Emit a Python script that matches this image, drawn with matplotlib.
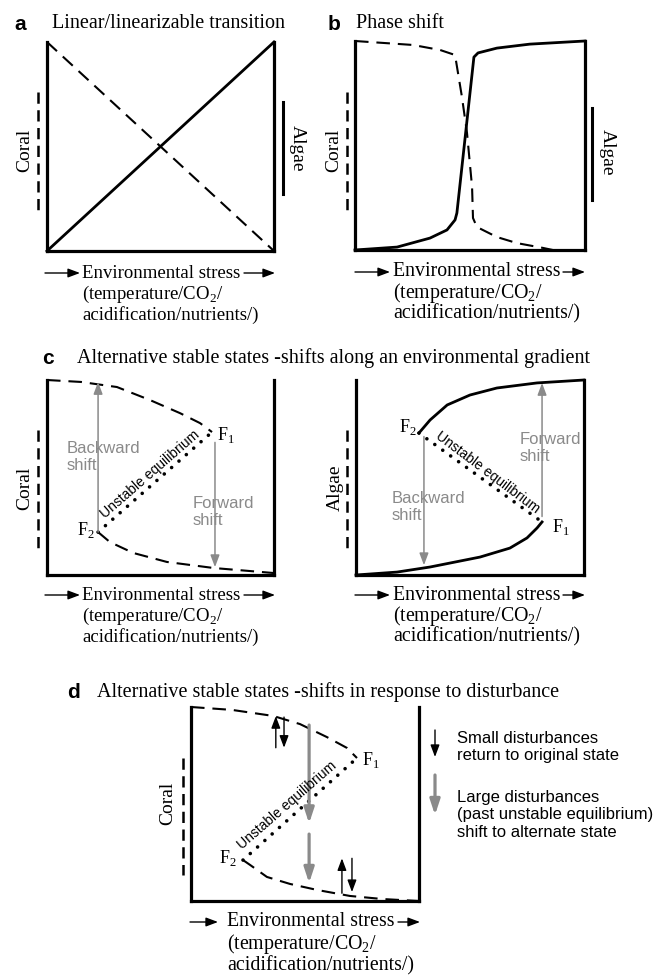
import matplotlib
matplotlib.use('Agg')
import matplotlib.pyplot as plt
from matplotlib.patches import FancyArrowPatch

# ---------------- data (schematic curves) ----------------
a_coral_x = [0, 1]
a_coral_y = [1, 0]
a_algae_x = [0, 1]
a_algae_y = [0, 1]

b_coral_x = [0, 0.252, 0.37, 0.435, 0.465, 0.487, 0.509, 0.513, 0.53, 0.617, 0.704, 0.817, 0.86]
b_coral_y = [1, 0.981, 0.957, 0.933, 0.732, 0.560, 0.301, 0.153, 0.11, 0.062, 0.033, 0.01, 0.0]
b_algae_x = [0, 0.183, 0.326, 0.40, 0.435, 0.443, 0.481, 0.517, 0.535, 0.617, 0.76, 1.0]
b_algae_y = [0, 0.014, 0.057, 0.096, 0.144, 0.177, 0.56, 0.923, 0.943, 0.966, 0.985, 1.0]

c_coral_upper_x = [0, 0.15, 0.308, 0.454, 0.586, 0.674, 0.727]
c_coral_upper_y = [1, 0.99, 0.964, 0.897, 0.83, 0.779, 0.733]
c_coral_unstable_x = [0.225, 0.727]
c_coral_unstable_y = [0.22, 0.733]
c_coral_lower_x = [0.225, 0.277, 0.38, 0.528, 0.733, 1.0]
c_coral_lower_y = [0.22, 0.169, 0.113, 0.067, 0.036, 0.01]

c_algae_upper_x = [0.276, 0.325, 0.40, 0.50, 0.618, 0.794, 1.0]
c_algae_upper_y = [0.728, 0.795, 0.872, 0.923, 0.959, 0.985, 1.0]
c_algae_unstable_x = [0.276, 0.816]
c_algae_unstable_y = [0.728, 0.272]
c_algae_lower_x = [0, 0.18, 0.325, 0.544, 0.675, 0.75, 0.794, 0.816]
c_algae_lower_y = [0, 0.015, 0.041, 0.092, 0.138, 0.19, 0.241, 0.272]

d_coral_upper_x = [0, 0.18, 0.36, 0.478, 0.596, 0.684, 0.728]
d_coral_upper_y = [1, 0.985, 0.954, 0.912, 0.845, 0.789, 0.737]
d_coral_unstable_x = [0.228, 0.728]
d_coral_unstable_y = [0.211, 0.737]
d_coral_lower_x = [0.228, 0.259, 0.333, 0.434, 0.553, 0.697, 0.842, 1.0]
d_coral_lower_y = [0.211, 0.186, 0.124, 0.088, 0.057, 0.026, 0.01, 0.0]

# shift arrows (x, y_start, y_end) in panel units
c_coral_backward = (0.225, 0.22, 0.99)
c_coral_forward = (0.74, 0.68, 0.04)
c_algae_forward = (0.816, 0.30, 0.985)
c_algae_backward = (0.298, 0.71, 0.05)
d_small_up = [(0.372, 0.79, 0.953), (0.662, 0.04, 0.22)]
d_small_down = [(0.408, 0.948, 0.79), (0.706, 0.22, 0.046)]
d_large = [(0.518, 0.907, 0.40), (0.518, 0.345, 0.093)]

titles = ["Linear/linearizable transition", "Phase shift",
          "Alternative stable states -shifts along an environmental gradient",
          "Alternative stable states -shifts in response to disturbance"]
xlab1 = "Environmental stress"
xlab2 = r"(temperature/CO$_\mathregular{2}$/"
xlab3 = "acidification/nutrients/)"

# ---------------- styling ----------------
W, H = 665, 977
SERIF = ['Liberation Serif', 'DejaVu Serif']
SANS = ['Liberation Sans', 'DejaVu Sans']
GRAY = '#8a8a8a'
SPINE_LW = 2.3
SOLID_LW = 2.0
DASH_LW = 1.5
DASH = (0, (6.5, 3.8))
DOT = (0, (0.01, 2.7))

fig = plt.figure(figsize=(W / 100, H / 100), dpi=100)
fig.patch.set_facecolor('white')


def fx(px):
    return px / W


def fy(py):
    return 1 - py / H


def make_ax(x0, y0, x1, y1):
    ax = fig.add_axes([x0 / W, 1 - y1 / H, (x1 - x0) / W, (y1 - y0) / H])
    ax.set_xlim(0, 1)
    ax.set_ylim(0, 1)
    ax.set_xticks([])
    ax.set_yticks([])
    ax.spines['top'].set_visible(False)
    for s in ['left', 'right', 'bottom']:
        ax.spines[s].set_linewidth(SPINE_LW)
        ax.spines[s].set_capstyle('projecting')
    ax.patch.set_alpha(0)
    return ax


def fig_arrow(x0, y0, x1, y1, color='black', lw=1.0, ms=9, hl=0.8, hw=0.3):
    fig.add_artist(FancyArrowPatch((fx(x0), fy(y0)), (fx(x1), fy(y1)),
                                   transform=fig.transFigure,
                                   arrowstyle=f'-|>,head_length={hl},head_width={hw}',
                                   mutation_scale=ms, lw=lw, color=color,
                                   shrinkA=0, shrinkB=0))


def ax_arrow(ax, x, y0, y1, color, lw, ms, hl=0.8, hw=0.3):
    ax.add_patch(FancyArrowPatch((x, y0), (x, y1), arrowstyle=f'-|>,head_length={hl},head_width={hw}',
                                 mutation_scale=ms, lw=lw, color=color,
                                 shrinkA=0, shrinkB=0, clip_on=False, zorder=4))


def xlabel_block(a0, a1, tx, b0, b1, y, dy, fs=14):
    fig_arrow(a0, y, a1, y)
    fig.text(fx(tx), fy(y), xlab1, family=SERIF, fontsize=fs, ha='left', va='center')
    fig_arrow(b0, y, b1, y)
    fig.text(fx(tx), fy(y + dy), xlab2, family=SERIF, fontsize=fs, ha='left', va='center')
    fig.text(fx(tx), fy(y + 2 * dy), xlab3, family=SERIF, fontsize=fs, ha='left', va='center')


def side_label(text, tx, ty, lx, ly0, ly1, dashed, rot):
    fig.text(fx(tx), fy(ty), text, family=SERIF, fontsize=14, rotation=rot,
             ha='center', va='center')
    fig.add_artist(plt.Line2D([fx(lx), fx(lx)], [fy(ly0), fy(ly1)], transform=fig.transFigure,
                              color='black', lw=1.8 if dashed else 2.2,
                              linestyle=(0, (4.5, 2.6)) if dashed else '-'))


def panel_title(letter, lx, tx, y, title):
    fig.text(fx(lx), fy(y), letter, family=SANS, fontweight='bold', fontsize=15,
             ha='center', va='center')
    fig.text(fx(tx), fy(y), title, family=SERIF, fontsize=14.5, ha='left', va='center')


def flabel(ax, x, y, num, ha):
    ax.text(x, y, r'F$_\mathregular{' + num + '}$', family=SERIF, fontsize=13,
            ha=ha, va='center', zorder=5)


def unstable(ax, xs, ys, tx, ty, rot):
    ax.plot(xs, ys, color='black', lw=2.6, linestyle=DOT, dash_capstyle='round',
            solid_capstyle='round', clip_on=False)
    ax.text(tx, ty, 'Unstable equilibrium', family=SANS, fontsize=10, rotation=rot,
            rotation_mode='anchor', ha='center', va='center', zorder=5)


# ---------------- panel a ----------------
panel_title('a', 20, 52, 24, titles[0])
ax = make_ax(47, 42, 274, 251)
ax.plot(a_algae_x, a_algae_y, color='black', lw=SOLID_LW, clip_on=False)
ax.plot(a_coral_x, a_coral_y, color='black', lw=DASH_LW, linestyle=DASH, clip_on=False)
side_label('Coral', 25, 150, 38, 92, 210, True, 90)
side_label('Algae', 297, 148, 283, 102, 194, False, -90)
xlabel_block(45, 80, 82, 244, 275, 273, 21, 13.5)

# ---------------- panel b ----------------
panel_title('b', 334, 356, 24, titles[1])
ax = make_ax(355, 41, 585, 250)
ax.plot(b_algae_x, b_algae_y, color='black', lw=SOLID_LW, clip_on=False)
ax.plot(b_coral_x, b_coral_y, color='black', lw=DASH_LW, linestyle=DASH, clip_on=False)
side_label('Coral', 334, 150, 347, 92, 210, True, 90)
side_label('Algae', 607, 152, 592, 108, 200, False, -90)
xlabel_block(355, 390, 393, 563, 585, 272, 21, 14.3)

# ---------------- panel c ----------------
panel_title('c', 48, 77, 358, titles[2])
ax = make_ax(47, 380, 274, 575)
ax.plot(c_coral_upper_x, c_coral_upper_y, color='black', lw=DASH_LW, linestyle=DASH, clip_on=False)
ax.plot(c_coral_lower_x, c_coral_lower_y, color='black', lw=DASH_LW, linestyle=DASH, clip_on=False)
unstable(ax, c_coral_unstable_x, c_coral_unstable_y, 0.454, 0.518, 41)
ax_arrow(ax, c_coral_backward[0], c_coral_backward[1], c_coral_backward[2], GRAY, 1.1, 9)
ax_arrow(ax, c_coral_forward[0], c_coral_forward[1], c_coral_forward[2], GRAY, 1.1, 9)
ax.text(0.088, 0.605, 'Backward\nshift', family=SANS, fontsize=12, color=GRAY,
        ha='left', va='center', linespacing=1.1)
ax.text(0.643, 0.323, 'Forward\nshift', family=SANS, fontsize=12, color=GRAY,
        ha='left', va='center', linespacing=1.1)
flabel(ax, 0.749, 0.718, '1', 'left')
flabel(ax, 0.211, 0.231, '2', 'right')
side_label('Coral', 25, 488, 38, 430, 548, True, 90)
xlabel_block(45, 80, 82, 244, 275, 595, 21, 13.5)

ax = make_ax(356, 380, 584, 575)
ax.plot(c_algae_upper_x, c_algae_upper_y, color='black', lw=SOLID_LW, clip_on=False)
ax.plot(c_algae_lower_x, c_algae_lower_y, color='black', lw=SOLID_LW, clip_on=False)
unstable(ax, c_algae_unstable_x, c_algae_unstable_y, 0.579, 0.528, -37)
ax_arrow(ax, c_algae_forward[0], c_algae_forward[1], c_algae_forward[2], GRAY, 1.1, 9)
ax_arrow(ax, c_algae_backward[0], c_algae_backward[1], c_algae_backward[2], GRAY, 1.1, 9)
ax.text(0.719, 0.651, 'Forward\nshift', family=SANS, fontsize=12, color=GRAY,
        ha='left', va='center', linespacing=1.1)
ax.text(0.158, 0.349, 'Backward\nshift', family=SANS, fontsize=12, color=GRAY,
        ha='left', va='center', linespacing=1.1)
flabel(ax, 0.86, 0.246, '1', 'left')
flabel(ax, 0.268, 0.759, '2', 'right')
side_label('Algae', 335, 488, 347, 430, 548, True, 90)
xlabel_block(355, 390, 393, 563, 585, 595, 21, 14.3)

# ---------------- panel d ----------------
panel_title('d', 73, 97, 692, titles[3])
ax = make_ax(191, 707, 419, 901)
ax.plot(d_coral_upper_x, d_coral_upper_y, color='black', lw=DASH_LW, linestyle=DASH, clip_on=False)
ax.plot(d_coral_lower_x, d_coral_lower_y, color='black', lw=DASH_LW, linestyle=DASH, clip_on=False)
unstable(ax, d_coral_unstable_x, d_coral_unstable_y, 0.421, 0.495, 41)
for x, y0, y1 in d_small_up + d_small_down:
    ax_arrow(ax, x, y0, y1, 'black', 1.0, 9)
for x, y0, y1 in d_large:
    ax_arrow(ax, x, y0, y1, GRAY, 2.3, 9, hl=1.0, hw=0.33)
flabel(ax, 0.75, 0.727, '1', 'left')
flabel(ax, 0.2, 0.222, '2', 'right')
side_label('Coral', 168, 803, 183, 758, 875, True, 90)
xlabel_block(190, 218, 227, 398, 420, 922, 22, 14.3)

# legend of panel d
fig_arrow(435, 730, 435, 757, 'black', 1.0, 9)
fig_arrow(435, 775, 435, 815, GRAY, 2.3, 9, hl=1.0, hw=0.33)
fig.text(fx(457), fy(747), 'Small disturbances\nreturn to original state', family=SANS,
         fontsize=12, ha='left', va='center', linespacing=1.2)
fig.text(fx(457), fy(815), 'Large disturbances\n(past unstable equilibrium)\nshift to alternate state',
         family=SANS, fontsize=12, ha='left', va='center', linespacing=1.2)

fig.savefig('out.png', dpi=100, facecolor='white')
